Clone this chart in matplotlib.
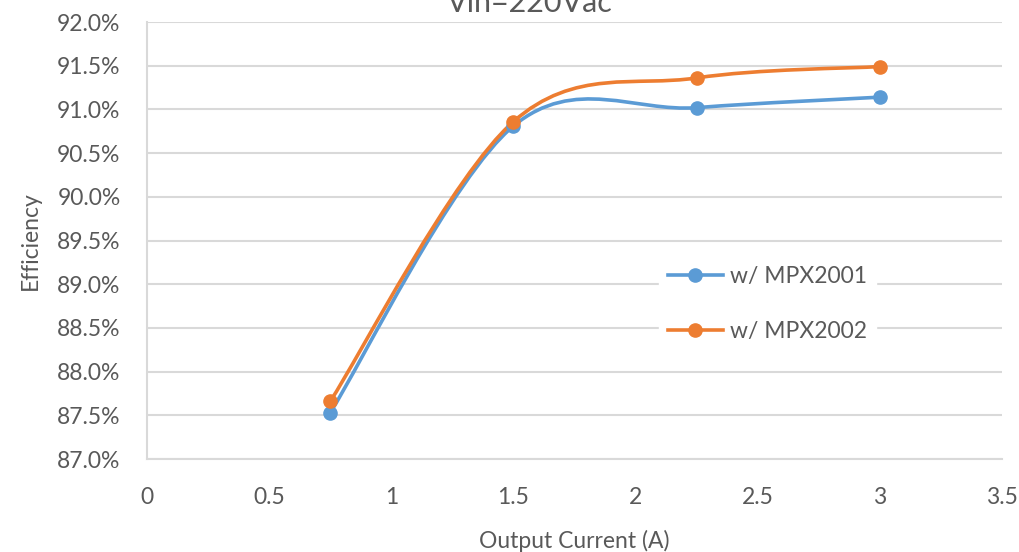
import numpy as np
import matplotlib
matplotlib.use("Agg")
import matplotlib.pyplot as plt
from matplotlib.path import Path
from matplotlib.patches import PathPatch
from matplotlib.lines import Line2D
from matplotlib.ticker import FuncFormatter

plt.rcParams["font.family"] = ["Lato", "DejaVu Sans"]

current = [0.75, 1.5, 2.25, 3.0]
eff_2001 = [87.53, 90.81, 91.02, 91.14]
eff_2002 = [87.66, 90.86, 91.36, 91.49]
labels = ["w/ MPX2001", "w/ MPX2002"]
colors = ["#5B9BD5", "#ED7D31"]
TEXT = "#595959"
GRID = "#D9D9D9"


def smooth_path(xs, ys):
    # Excel-style smoothed line: Catmull-Rom converted to cubic Bezier
    pts = np.column_stack([xs, ys])
    n = len(pts)
    verts = [pts[0]]
    codes = [Path.MOVETO]
    for i in range(n - 1):
        p0 = pts[max(i - 1, 0)]
        p1 = pts[i]
        p2 = pts[i + 1]
        p3 = pts[min(i + 2, n - 1)]
        verts += [p1 + (p2 - p0) / 6, p2 - (p3 - p1) / 6, p2]
        codes += [Path.CURVE4] * 3
    return Path(verts, codes)


fig = plt.figure(figsize=(10.2, 5.52), dpi=100)
ax = fig.add_axes([147 / 1020, 1 - 459 / 552, 855 / 1020, 437 / 552])

handles = []
for ys, c, lab in zip([eff_2001, eff_2002], colors, labels):
    ax.add_patch(PathPatch(smooth_path(current, ys), facecolor="none",
                           edgecolor=c, lw=2.6, zorder=3, capstyle="round"))
    ax.plot(current, ys, "o", color=c, ms=9.5, zorder=4)
    handles.append(Line2D([], [], color=c, lw=2.6, marker="o", ms=9.5))

ax.set_xlim(0, 3.5)
ax.set_ylim(87.0, 92.0)
ax.set_xticks(np.arange(0, 3.51, 0.5))
ax.set_xticklabels(["0", "0.5", "1", "1.5", "2", "2.5", "3", "3.5"])
ax.set_yticks(np.arange(87.0, 92.01, 0.5))
ax.yaxis.set_major_formatter(FuncFormatter(lambda v, p: f"{v:.1f}%"))
ax.tick_params(length=0, labelsize=16.5, colors=TEXT)
ax.tick_params(axis="y", pad=19)
ax.tick_params(axis="x", pad=20)
ax.grid(axis="y", color=GRID, lw=1.5)
ax.set_axisbelow(True)
for s in ["top", "right"]:
    ax.spines[s].set_visible(False)
for s in ["left", "bottom"]:
    ax.spines[s].set_color(GRID)
    ax.spines[s].set_linewidth(1.5)

ax.set_xlabel("Output Current (A)", fontsize=16.5, color=TEXT, labelpad=16)
ax.set_ylabel("Efficiency", fontsize=16.5, color=TEXT, labelpad=12)

leg = ax.legend(handles, labels, loc="center left", bbox_to_anchor=(0.585, 0.355),
                frameon=True, fontsize=16.5, handlelength=2.4, labelspacing=1.5,
                borderpad=0.4, handletextpad=0.3, labelcolor=TEXT)
leg.get_frame().set_edgecolor("white")
leg.get_frame().set_facecolor("white")
leg.get_frame().set_alpha(1)

# title is clipped by the top edge, as in the original screenshot
fig.text(530 / 1020, 1 - 12 / 552, "Vin=220Vac", ha="center", va="baseline",
         fontsize=22, color=TEXT)

fig.savefig("out.png", dpi=100)
